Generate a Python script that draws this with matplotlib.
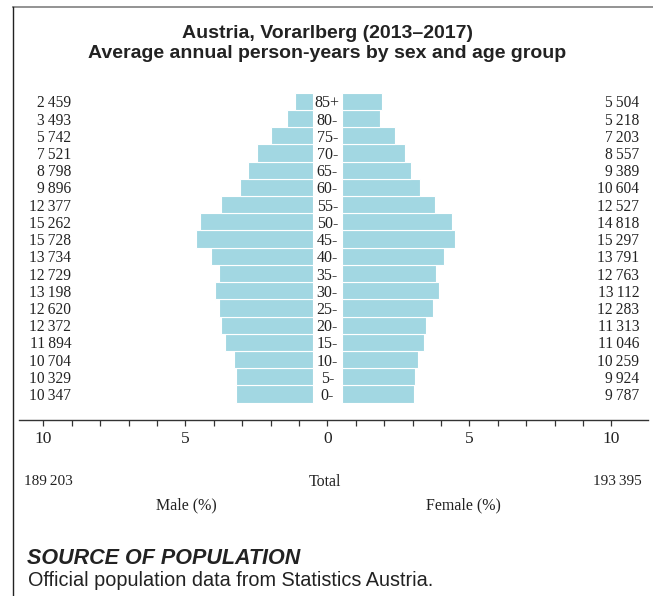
import matplotlib
matplotlib.use("Agg")
import matplotlib.pyplot as plt
from matplotlib.lines import Line2D

ages = ['0-', '5-', '10-', '15-', '20-', '25-', '30-', '35-', '40-',
        '45-', '50-', '55-', '60-', '65-', '70-', '75-', '80-', '85+']
male = [10347, 10329, 10704, 11894, 12372, 12620, 13198, 12729, 13734,
        15728, 15262, 12377, 9896, 8798, 7521, 5742, 3493, 2459]
female = [9787, 9924, 10259, 11046, 11313, 12283, 13112, 12763, 13791,
          15297, 14818, 12527, 10604, 9389, 8557, 7203, 5218, 5504]
male_total = 189203
female_total = 193395
x_ticks = [-10, -5, 0, 5, 10]

W, H = 653, 596
BAR = '#a2d7e2'
INK = '#222222'
SERIF = ['Liberation Serif', 'DejaVu Serif']
SANS = ['Liberation Sans', 'DejaVu Sans']
GAP = 0.5  # half width of the age label gap, in % units


def fx(px):
    return px / W


def fy(py):
    return 1 - py / H


def fmt(v):
    return f"{v:,}".replace(',', '\u2009')


grand = male_total + female_total
male_pct = [v / grand * 100 for v in male]
female_pct = [v / grand * 100 for v in female]

fig = plt.figure(figsize=(W / 100, H / 100), dpi=100)
ax = fig.add_axes([fx(19), fy(420), fx(648) - fx(19), fy(85) - fy(420)])

rows = list(range(len(ages)))
ax.barh(rows, [-p for p in male_pct], left=-GAP, height=1.0, color=BAR,
        edgecolor='white', linewidth=0.8)
ax.barh(rows, female_pct, left=GAP, height=1.0, color=BAR,
        edgecolor='white', linewidth=0.8)

ax.set_xlim(-10.856, 11.29)
ax.set_ylim(-1.507, 17.95)

for i, a in enumerate(ages):
    ax.text(0, i, a, ha='center', va='center_baseline', fontsize=11.5,
            family=SERIF, color=INK)
    ax.text(-9.02, i, fmt(male[i]), ha='right', va='center_baseline',
            fontsize=11.2, family=SERIF, color=INK)
    ax.text(10.98, i, fmt(female[i]), ha='right', va='center_baseline',
            fontsize=11.2, family=SERIF, color=INK)

for s in ['top', 'left', 'right']:
    ax.spines[s].set_visible(False)
ax.spines['bottom'].set_color('#333333')
ax.spines['bottom'].set_linewidth(1.0)
ax.set_yticks([])
ax.set_xticks(range(-10, 11))
ax.set_xticklabels([str(abs(t)) if t in x_ticks else '' for t in range(-10, 11)],
                   family=SERIF, fontsize=12.5, color=INK)
ax.tick_params(axis='x', direction='out', length=4, width=0.9,
               color='#333333', pad=4)

# totals and axis captions
fig.text(fx(72.7), fy(480), fmt(male_total), ha='right', va='center_baseline',
         fontsize=11, family=SERIF, color=INK)
fig.text(fx(642), fy(480), fmt(female_total), ha='right', va='center_baseline',
         fontsize=11, family=SERIF, color=INK)
fig.text(fx(325), fy(480), 'Total', ha='center', va='center_baseline',
         fontsize=11.5, family=SERIF, color=INK)
fig.text(fx(186), fy(503), 'Male (%)', ha='center', va='center_baseline',
         fontsize=11.5, family=SERIF, color=INK)
fig.text(fx(463), fy(503), 'Female (%)', ha='center', va='center_baseline',
         fontsize=11.5, family=SERIF, color=INK)

# title
fig.text(fx(327.5), fy(31.5), 'Austria, Vorarlberg (2013\u20132017)',
         ha='center', va='center_baseline', fontsize=14, fontweight='bold',
         family=SANS, color=INK)
fig.text(fx(327.5), fy(52), 'Average annual person-years by sex and age group',
         ha='center', va='center_baseline', fontsize=14, fontweight='bold',
         family=SANS, color=INK)

# source note
fig.text(fx(27), fy(556), 'SOURCE OF POPULATION', ha='left',
         va='center_baseline', fontsize=15.5, fontweight='bold',
         fontstyle='italic', family=SANS, color=INK)
fig.text(fx(28), fy(578), 'Official population data from Statistics Austria.',
         ha='left', va='center_baseline', fontsize=14.3, family=SANS, color=INK)

# frame lines
fig.add_artist(Line2D([fx(12.7), 1], [fy(6.7), fy(6.7)], color='#8a8a8a',
                      linewidth=1.3, transform=fig.transFigure))
fig.add_artist(Line2D([fx(12.7), fx(12.7)], [fy(6.7), 0], color='#222222',
                      linewidth=1.0, transform=fig.transFigure))

fig.savefig('out.png', dpi=100)
